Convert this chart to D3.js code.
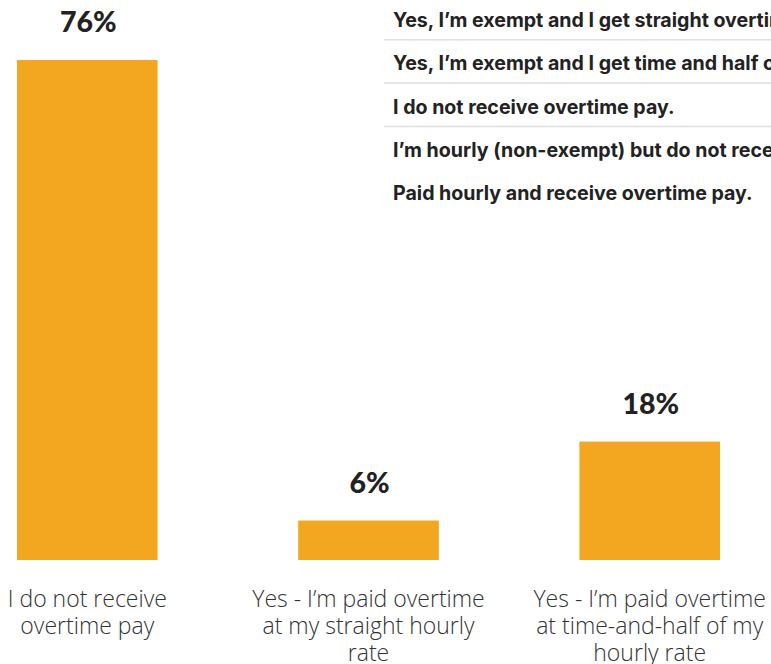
<!DOCTYPE html>
<html>
<head>
<meta charset="utf-8">
<script src="https://cdn.jsdelivr.net/npm/d3@7"></script>
<style>
  html, body { margin: 0; padding: 0; background: #fff; }
  svg { display: block; }
</style>
</head>
<body>
<svg id="chart" width="771" height="664"></svg>
<script>
// Answers shown as bars (share of respondents, %)
const categories = [
  ["I do not receive", "overtime pay"],
  ["Yes - I\u2019m paid overtime", "at my straight hourly", "rate"],
  ["Yes - I\u2019m paid overtime", "at time-and-half of my", "hourly rate"]
];
const values = [76, 6, 18];

// Answer options listed at the top right
const options = [
  "Yes, I\u2019m exempt and I get straight overtime pay.",
  "Yes, I\u2019m exempt and I get time and half overtime pay.",
  "I do not receive overtime pay.",
  "I\u2019m hourly (non-exempt) but do not receive overtime pay.",
  "Paid hourly and receive overtime pay."
];
const optionsWithRule = [true, true, true, false, false];

const svg = d3.select("#chart");
const BAR = "#F3A61F";

const x = d3.scaleBand()
  .domain(d3.range(values.length))
  .range([17, 720])
  .paddingInner(0.5)
  .paddingOuter(0);

const y = d3.scaleLinear()
  .domain([0, 76])
  .range([560, 60]);

// Bars
svg.append("g")
  .selectAll("rect")
  .data(values)
  .join("rect")
  .attr("x", (d, i) => x(i))
  .attr("width", x.bandwidth())
  .attr("y", d => y(d))
  .attr("height", d => y(0) - y(d))
  .attr("fill", BAR);

// Value labels above bars
svg.append("g")
  .selectAll("text")
  .data(values)
  .join("text")
  .attr("x", (d, i) => x(i) + x.bandwidth() / 2 + 1)
  .attr("y", d => y(d) - 28)
  .attr("text-anchor", "middle")
  .attr("font-family", "Lato, sans-serif")
  .attr("font-weight", 900)
  .attr("font-size", 28.5)
  .attr("fill", "#222")
  .text(d => d + "%");

// Category labels under bars
const cat = svg.append("g")
  .selectAll("text")
  .data(categories)
  .join("text")
  .attr("x", (d, i) => x(i) + x.bandwidth() / 2)
  .attr("y", 607)
  .attr("text-anchor", "middle")
  .attr("font-family", "'Open Sans', sans-serif")
  .attr("font-weight", 300)
  .attr("font-size", 23)
  .attr("fill", "#333");
cat.selectAll("tspan")
  .data(d => d)
  .join("tspan")
  .attr("x", function () { return d3.select(this.parentNode).attr("x"); })
  .attr("dy", (d, i) => i === 0 ? 0 : 27)
  .text(d => d);

// Option list at the top right
const opt = svg.append("g");
const rowY = d3.scaleLinear().domain([0, 1]).range([27, 70.3]);
opt.selectAll("line")
  .data(options.map((t, i) => i).filter(i => optionsWithRule[i]))
  .join("line")
  .attr("x1", 384)
  .attr("x2", 771)
  .attr("y1", i => rowY(i) + 12.8)
  .attr("y2", i => rowY(i) + 12.8)
  .attr("stroke", "#dedede")
  .attr("stroke-width", 1.5);
opt.selectAll("text")
  .data(options)
  .join("text")
  .attr("x", 393)
  .attr("y", (d, i) => rowY(i))
  .attr("font-family", "Inter, sans-serif")
  .attr("font-weight", 700)
  .attr("font-size", 19.6)
  .attr("fill", "#222")
  .text(d => d);
</script>
</body>
</html>
